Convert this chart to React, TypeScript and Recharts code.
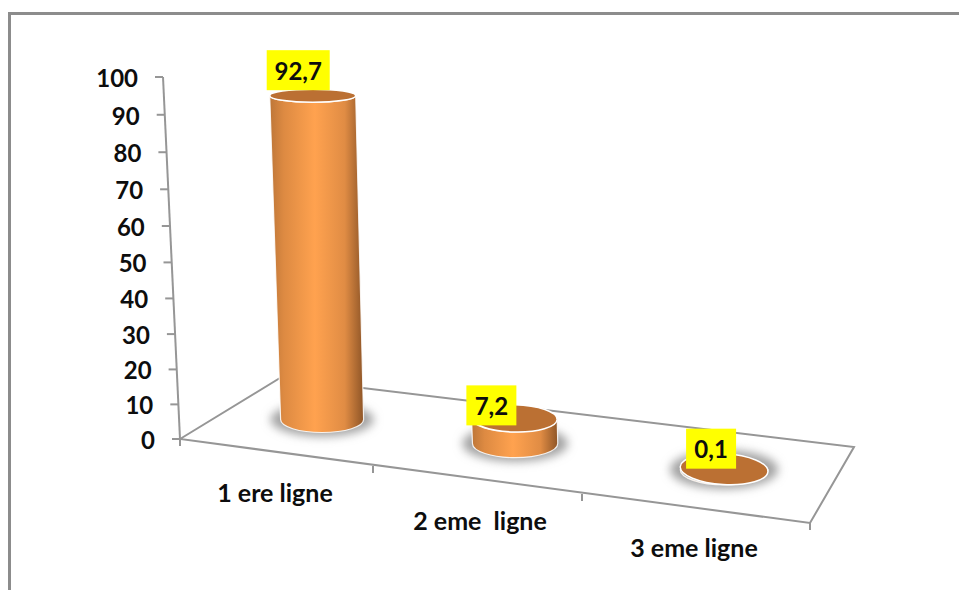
import { Bar, BarChart, LabelList, XAxis, YAxis } from 'recharts';

const categories = ['1 ere ligne', '2 eme  ligne', '3 eme ligne'];
const values = [92.7, 7.2, 0.1];
const yTicks = [0, 10, 20, 30, 40, 50, 60, 70, 80, 90, 100];

const data = categories.map((label, i) => ({ label, value: values[i] }));

const FONT = 'Lato, sans-serif';
const AXIS_GREY = '#969696';

// floor of the 3D scene, in chart pixels
const FLOOR = { frontLeft: [180, 439], backLeft: [280, 378], backRight: [854, 447], frontRight: [810, 523] };
const FLOOR_TICKS = [
    [180, 439],
    [373, 466],
    [582, 494],
    [810, 523],
];

// the floor is foreshortened, so the columns do not sit on even band centres
const depthShift = [0, -8, 0];
const labelNudges = [
    { dx: -14.5, dy: -25.5 },
    { dx: -23, dy: -13 },
    { dx: -13, dy: -20.5 },
];
const tickNudges = [
    { dx: -47, y: 502 },
    { dx: -35, y: 530 },
    { dx: -30, y: 557 },
];

function cylinder(x: number, width: number, height: number, index: number) {
    const cx = x + width / 2 + depthShift[index];
    const baseY = 419.5 + (cx - 322) * 0.1244;
    const h = height * 0.965;
    const rxBase = 41.5 + (cx - 322) * 0.006;
    const ryBase = 13 + (cx - 322) * 0.006;
    return {
        cx,
        baseY,
        topX: cx - h * 0.029,
        topY: baseY - h,
        rxBase,
        ryBase,
        rxTop: rxBase + h * 0.0046,
        ryTop: ryBase - h * 0.02,
        tilt: (cx - 322) * 0.008,
    };
}

function CylinderShape(props: any) {
    const { x, width, height, index } = props;
    const c = cylinder(x, width, height, index);
    const side = [
        `M${c.cx - c.rxBase},${c.baseY}`,
        `A${c.rxBase},${c.ryBase} 0 0 0 ${c.cx + c.rxBase},${c.baseY}`,
        `L${c.topX + c.rxTop},${c.topY}`,
        `A${c.rxTop},${c.ryTop} 0 0 1 ${c.topX - c.rxTop},${c.topY}`,
        'Z',
    ].join(' ');
    return (
        <g>
            <ellipse
                cx={c.cx}
                cy={c.baseY}
                rx={c.rxBase + 10}
                ry={c.ryBase + 4}
                fill="#a2a2a2"
                filter="url(#columnShadow)"
            />
            <path d={side} fill="url(#columnSide)" stroke="#fff" strokeWidth={1.2} strokeOpacity={0.85} />
            <ellipse
                cx={c.topX}
                cy={c.topY}
                rx={c.rxTop}
                ry={c.ryTop}
                fill="#bb7033"
                stroke="#fff"
                strokeWidth={1.5}
                transform={`rotate(${c.tilt} ${c.topX} ${c.topY})`}
            />
        </g>
    );
}

function ValueBadge(props: any) {
    const { x, width, height, value, index } = props;
    const c = cylinder(x, width, height, index);
    const text = String(value).replace('.', ',');
    const boxW = text.length * 13 + 11;
    const bx = c.topX + labelNudges[index].dx;
    const by = c.topY + labelNudges[index].dy;
    return (
        <g>
            <rect x={bx - boxW / 2} y={by - 20} width={boxW} height={40} fill="#ffff00" />
            <text
                x={bx}
                y={by + 9.5}
                textAnchor="middle"
                fontFamily={FONT}
                fontWeight={700}
                fontSize={24}
                fill="#0d0d0d"
            >
                {text}
            </text>
        </g>
    );
}

// value axis leans with the scene, ticks get closer together towards the floor
function ValueTick(props: any) {
    const { y, payload } = props;
    const v = payload.value;
    const t = v / 100;
    const ty = y + 17.6 * t * (1 - t);
    const ax = 180 - v * 0.17;
    return (
        <g>
            <line x1={ax - 8} y1={ty} x2={ax} y2={ty} stroke={AXIS_GREY} strokeWidth={2} />
            <text
                x={ax - 25}
                y={ty + 10}
                textAnchor="end"
                fontFamily={FONT}
                fontWeight={700}
                fontSize={24}
                fill="#0d0d0d"
            >
                {v}
            </text>
        </g>
    );
}

function CategoryTick(props: any) {
    const { x, payload, index } = props;
    return (
        <text
            x={x + depthShift[index] + tickNudges[index].dx}
            y={tickNudges[index].y}
            textAnchor="middle"
            fontFamily={FONT}
            fontWeight={700}
            fontSize={25}
            fill="#0d0d0d"
            style={{ whiteSpace: 'pre' }}
        >
            {payload.value}
        </text>
    );
}

function Floor() {
    const { frontLeft, backLeft, backRight, frontRight } = FLOOR;
    const points = [frontLeft, backLeft, backRight, frontRight].map((p) => p.join(',')).join(' ');
    return (
        <g>
            <polygon points={points} fill="#fff" stroke={AXIS_GREY} strokeWidth={2} />
            <line x1={163} y1={77} x2={180} y2={439} stroke={AXIS_GREY} strokeWidth={2} />
            {FLOOR_TICKS.map(([x, y]) => (
                <line key={x} x1={x} y1={y} x2={x} y2={y + 7} stroke={AXIS_GREY} strokeWidth={2} />
            ))}
        </g>
    );
}

export default function App() {
    return (
        <div style={{ position: 'absolute', left: 0, top: 0, width: 959, height: 590, overflow: 'hidden', background: '#fff' }}>
            <div
                style={{
                    position: 'absolute',
                    left: 8,
                    top: 12,
                    width: 1000,
                    height: 700,
                    borderLeft: '3px solid #8c8c8c',
                    borderTop: '3px solid #8c8c8c',
                }}
            />
            <div style={{ position: 'absolute', left: 0, top: 0 }}>
                <BarChart
                    width={959}
                    height={590}
                    data={data}
                    margin={{ top: 77, right: 134.5, bottom: 121, left: 161.5 }}
                >
                    <defs>
                        <linearGradient id="columnSide" x1="0" y1="0" x2="1" y2="0">
                            <stop offset="0%" stopColor="#bd7638" />
                            <stop offset="15%" stopColor="#dd8a42" />
                            <stop offset="48%" stopColor="#ffa24f" />
                            <stop offset="80%" stopColor="#e08c44" />
                            <stop offset="100%" stopColor="#8e5527" />
                        </linearGradient>
                        <filter id="columnShadow" x="-30%" y="-80%" width="160%" height="260%">
                            <feGaussianBlur stdDeviation="5" />
                        </filter>
                    </defs>
                    <Floor />
                    <XAxis
                        dataKey="label"
                        height={30}
                        axisLine={false}
                        tickLine={false}
                        interval={0}
                        tick={CategoryTick}
                    />
                    <YAxis
                        width={60}
                        domain={[0, 100]}
                        ticks={yTicks}
                        axisLine={false}
                        tickLine={false}
                        interval={0}
                        tick={ValueTick}
                    />
                    <Bar dataKey="value" shape={CylinderShape} isAnimationActive={false}>
                        <LabelList dataKey="value" content={ValueBadge} />
                    </Bar>
                </BarChart>
            </div>
        </div>
    );
}
